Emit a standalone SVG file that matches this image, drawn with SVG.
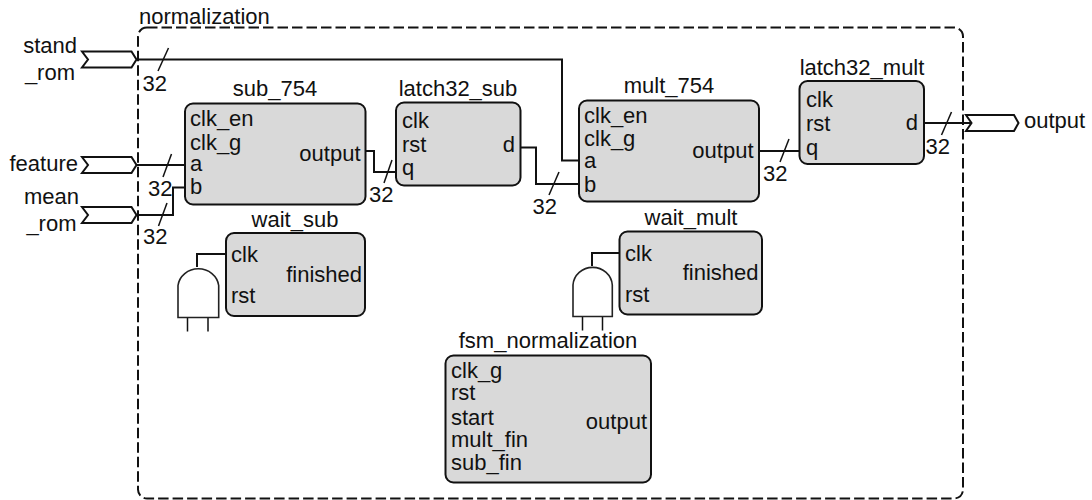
<svg xmlns="http://www.w3.org/2000/svg" width="1092" height="500" viewBox="0 0 1092 500">
<style>
text{font-family:"Liberation Sans",Arial,sans-serif;font-size:22px;fill:#111}
.b{fill:#d9d9d9;stroke:#111;stroke-width:2}
.w{fill:none;stroke:#111;stroke-width:2}
.t{fill:none;stroke:#111;stroke-width:1.5}
.p{fill:#fff;stroke:#111;stroke-width:2}
.g{fill:#fff;stroke:#222;stroke-width:1.6}
.e{text-anchor:end}
.m{text-anchor:middle}
</style>
<rect id="boundary" x="138" y="27.500" width="825" height="471" rx="9" fill="none" stroke="#111" stroke-width="2" stroke-dasharray="10.500 4"/>
<text x="139" y="24">normalization</text>
<g id="port_stand_rom"><path class="p" d="M82 51.500H131.500L136.500 59.500L131.500 67.500H82L88 59.500Z"/><text class="e" x="77" y="53">stand</text><text class="e" x="75" y="80">_rom</text></g>
<g id="port_feature"><path class="p" d="M82 157H131.500L136.500 165L131.500 173H82L88 165Z"/><text class="e" x="78" y="171">feature</text></g>
<g id="port_mean_rom"><path class="p" d="M82 207H131.500L136.500 215L131.500 223H82L88 215Z"/><text class="e" x="79" y="204">mean</text><text class="e" x="76.500" y="231">_rom</text></g>
<g id="port_output"><path class="p" d="M966 115H1014L1018.500 123L1014 131H966L971.500 123Z"/><text x="1024" y="128">output</text></g>
<g id="connectors">
<path class="w" d="M137 59.500H562V160.500H579"/>
<path class="w" d="M137 165H185"/>
<path class="w" d="M137 215H173V187.500H185"/>
<path class="w" d="M366 151H374V172H396"/>
<path class="w" d="M521 147.500H536V184H579"/>
<path class="w" d="M760 151H799"/>
<path class="w" d="M925 123H971"/>
<path class="w" d="M226 254H197V267"/>
<path class="w" d="M619 253H592V266"/>
<path class="t" d="M158 71L168.500 48"/><path class="t" d="M163 177L171.500 154"/><path class="t" d="M158.500 226L167 203"/><path class="t" d="M384 183L392 160"/><path class="t" d="M549 195L559 172"/><path class="t" d="M780 162L789 139"/><path class="t" d="M941.500 135L951.500 112"/>
<path class="t" d="M187.500 317V331.500M208 317V331.500M582.500 317V330.500M602.500 317V330.500"/>
</g>
<g id="gate_sub"><path class="g" d="M178 317.500V285.500A20.500 19 0 0 1 218.700 285.500V317.500Z"/></g>
<g id="gate_mult"><path class="g" d="M573 316.500V285A19.700 19 0 0 1 612.300 285V316.500Z"/></g>
<g id="sub_754"><rect class="b" x="185" y="103.500" width="180.500" height="101" rx="8"/><text class="m" x="275" y="96">sub_754</text><text x="190" y="126">clk_en</text><text x="190" y="150">clk_g</text><text x="190" y="171">a</text><text x="190" y="194">b</text><text class="e" x="360.500" y="161">output</text></g>
<g id="latch32_sub"><rect class="b" x="396" y="102.500" width="124.500" height="83" rx="8"/><text class="m" x="458" y="96">latch32_sub</text><text x="402" y="128">clk</text><text x="402" y="152">rst</text><text x="402" y="175">q</text><text class="e" x="515" y="151.500">d</text></g>
<g id="mult_754"><rect class="b" x="579" y="100.500" width="180" height="101" rx="8"/><text class="m" x="669" y="93">mult_754</text><text x="584" y="123">clk_en</text><text x="584" y="146">clk_g</text><text x="584" y="168">a</text><text x="584" y="192">b</text><text class="e" x="753.500" y="157.500">output</text></g>
<g id="latch32_mult"><rect class="b" x="799.500" y="81" width="124.500" height="83" rx="8"/><text class="m" x="862" y="75">latch32_mult</text><text x="806" y="107">clk</text><text x="806" y="131">rst</text><text x="806" y="155">q</text><text class="e" x="918" y="130">d</text></g>
<g id="wait_sub"><rect class="b" x="226" y="233" width="139" height="83" rx="8"/><text class="m" x="295" y="226.500">wait_sub</text><text x="231" y="261.500">clk</text><text class="e" x="362" y="281.500">finished</text><text x="231" y="302.500">rst</text></g>
<g id="wait_mult"><rect class="b" x="619.500" y="231.500" width="142.500" height="83" rx="8"/><text class="m" x="691" y="225">wait_mult</text><text x="625" y="260.500">clk</text><text class="e" x="758.500" y="280">finished</text><text x="625" y="301.500">rst</text></g>
<g id="fsm_normalization"><rect class="b" x="445.500" y="355.500" width="205.500" height="127" rx="8"/><text class="m" x="548" y="348">fsm_normalization</text><text x="451" y="378">clk_g</text><text x="451" y="400">rst</text><text x="451" y="424.500">start</text><text x="451" y="446.500">mult_fin</text><text x="451" y="470">sub_fin</text><text class="e" x="647" y="428.500">output</text></g>
<g id="bus_labels"><text x="142.500" y="90.500">32</text><text x="148" y="196">32</text><text x="143" y="244">32</text><text x="369" y="201.500">32</text><text x="532.500" y="214">32</text><text x="763" y="181">32</text><text x="925.500" y="153.500">32</text></g>
</svg>
